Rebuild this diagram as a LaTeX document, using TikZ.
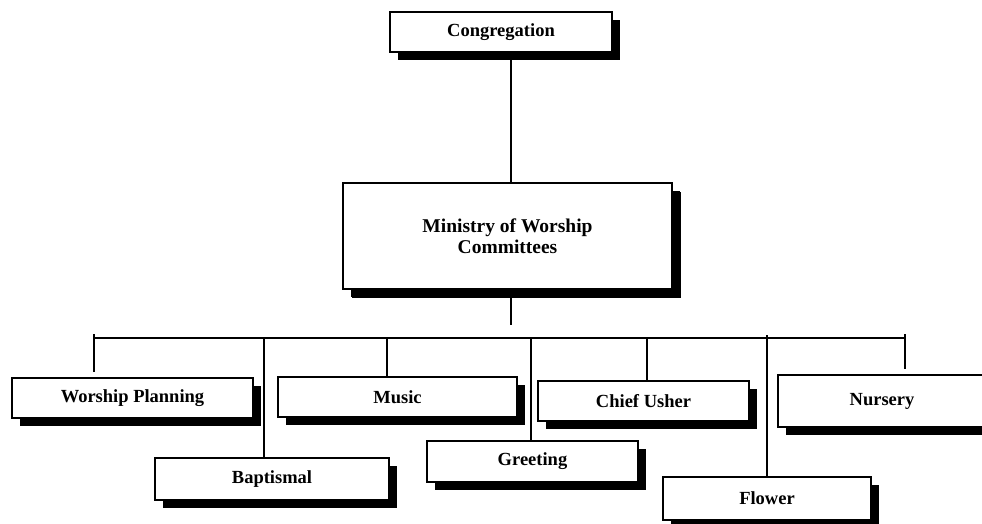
\documentclass[tikz,border=0pt]{standalone}
\usepackage{fontspec}
\setmainfont{Liberation Serif}
\usetikzlibrary{shadows,calc}
\begin{document}
\begin{tikzpicture}[x=1pt,y=-1pt,
  orgbox/.style={draw=black, line width=1.4pt, fill=white, inner sep=0pt,
    align=center, font=\fontsize{18.5}{21}\selectfont\bfseries,
    drop shadow={shadow xshift=8pt, shadow yshift=-8pt, fill=black, opacity=1}},
  link/.style={line width=2pt}]
\useasboundingbox (0,0) rectangle (982,524);

% top of the chart
\node[orgbox, minimum width=222pt, minimum height=40pt] (cong) at (501,32) {Congregation};
\node[orgbox, minimum width=329pt, minimum height=106pt,
      font=\fontsize{19.5}{21}\selectfont\bfseries,
      drop shadow={shadow xshift=9pt, shadow yshift=-9pt, fill=black, opacity=1}]
      (min) at (507.5,236) {Ministry of Worship\\Committees};

% committees
\node[orgbox, minimum width=241pt, minimum height=40pt] (wp)     at (132.5,398) {Worship Planning};
\node[orgbox, minimum width=234pt, minimum height=42pt] (bap)    at (272,479)   {Baptismal};
\node[orgbox, minimum width=239pt, minimum height=40pt] (music)  at (397.5,397) {Music};
\node[orgbox, minimum width=211pt, minimum height=41pt] (greet)  at (532.5,461.5) {Greeting};
\node[orgbox, minimum width=211pt, minimum height=40pt] (usher)  at (643.5,401) {Chief Usher};
\node[orgbox, minimum width=208pt, minimum height=43pt] (flower) at (767,498.5) {Flower};
\node[orgbox, minimum width=208pt, minimum height=52pt] (nurs)   at (882,401)   {Nursery};

% spine and bus
\coordinate (s) at (511,0);
\coordinate (m) at (511,325);
\coordinate (t1) at (94,338);
\coordinate (t2) at (264,338);
\coordinate (t3) at (387,338);
\coordinate (t4) at (531,338);
\coordinate (t5) at (647,338);
\coordinate (t6) at (767,338);
\coordinate (t7) at (905,338);

\draw[link] (cong.south -| s) -- (min.north -| s);
\draw[link] (min.south -| m) -- (m);
\draw[link] (t1) -- (t7);

% drops to each committee
\draw[link] ($(t1)+(0,-4)$) -- ($(wp.north -| t1)+(0,-5)$);
\draw[link] (t2) -- (bap.north -| t2);
\draw[link] (t3) -- (music.north -| t3);
\draw[link] (t4) -- (greet.north -| t4);
\draw[link] (t5) -- (usher.north -| t5);
\draw[link] ($(t6)+(0,-3)$) -- (flower.north -| t6);
\draw[link] ($(t7)+(0,-4)$) -- ($(nurs.north -| t7)+(0,-5)$);
\end{tikzpicture}
\end{document}
